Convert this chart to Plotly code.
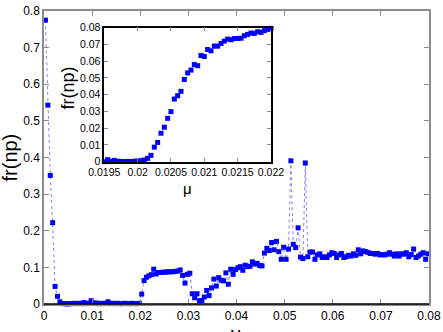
import plotly.graph_objects as go

# ---- main series: mu grid and fr(np) values ----
mu_start = 0.0003
mu_step = 0.0005
fr_main = [
    0.775, 0.543, 0.351, 0.222, 0.048, 0.021, 0.006, 0.001, 0.001, 0.000,
    0.001, 0.001, 0.002, 0.001, 0.002, 0.001, 0.004, 0.001, 0.002, 0.009,
    0.002, 0.003, 0.001, 0.002, 0.001, 0.002, 0.006, 0.001, 0.002, 0.001,
    0.002, 0.001, 0.001, 0.002, 0.001, 0.001, 0.002, 0.001, 0.001, 0.002,
    0.027, 0.064, 0.073, 0.077, 0.080, 0.095, 0.082, 0.086, 0.086, 0.087,
    0.087, 0.088, 0.088, 0.088, 0.089, 0.090, 0.093, 0.078, 0.057, 0.081,
    0.084, 0.028, 0.017, 0.028, 0.009, 0.009, 0.019, 0.037, 0.023, 0.044,
    0.068, 0.049, 0.072, 0.065, 0.063, 0.085, 0.054, 0.095, 0.081, 0.094,
    0.099, 0.102, 0.092, 0.106, 0.102, 0.103, 0.115, 0.109, 0.111, 0.105,
    0.104, 0.139, 0.152, 0.146, 0.168, 0.148, 0.171, 0.143, 0.122, 0.155,
    0.122, 0.150, 0.391, 0.163, 0.154, 0.208, 0.128, 0.124, 0.385, 0.129,
    0.142, 0.142, 0.122, 0.134, 0.137, 0.127, 0.129, 0.127, 0.134, 0.140,
    0.138, 0.127, 0.134, 0.138, 0.127, 0.129, 0.133, 0.131, 0.137, 0.133,
    0.148, 0.137, 0.145, 0.143, 0.141, 0.138, 0.138, 0.136, 0.138, 0.134,
    0.135, 0.134, 0.136, 0.140, 0.136, 0.131, 0.137, 0.131, 0.137, 0.136,
    0.140, 0.129, 0.135, 0.150, 0.127, 0.131, 0.136, 0.140, 0.122, 0.137,
]
mu_main = [round(mu_start + mu_step * i, 5) for i in range(len(fr_main))]

# ---- inset series ----
inset_start = 0.0195
inset_step = 0.00005
fr_inset = [
    0.0000, 0.0012, 0.0003, 0.0008, 0.0002, 0.0002, 0.0001, 0.0002, 0.0001, 0.0003,
    0.0004, 0.0006, 0.0010, 0.0020, 0.0038, 0.0087, 0.0115, 0.0170, 0.0206, 0.0259,
    0.0299, 0.0374, 0.0394, 0.0420, 0.0491, 0.0530, 0.0547, 0.0580, 0.0573, 0.0634,
    0.0628, 0.0670, 0.0662, 0.0690, 0.0690, 0.0706, 0.0720, 0.0732, 0.0728, 0.0735,
    0.0736, 0.0737, 0.0752, 0.0760, 0.0768, 0.0766, 0.0776, 0.0772, 0.0782, 0.0790,
    0.0796,
]
mu_inset = [round(inset_start + inset_step * i, 6) for i in range(len(fr_inset))]

# ---- tick labels ----
main_xticks = [0, 0.01, 0.02, 0.03, 0.04, 0.05, 0.06, 0.07, 0.08]
main_xtext = ["0", "0.01", "0.02", "0.03", "0.04", "0.05", "0.06", "0.07", "0.08"]
main_yticks = [0, 0.1, 0.2, 0.3, 0.4, 0.5, 0.6, 0.7, 0.8]
main_ytext = ["0", "0.1", "0.2", "0.3", "0.4", "0.5", "0.6", "0.7", "0.8"]
inset_xticks = [0.0195, 0.02, 0.0205, 0.021, 0.0215, 0.022]
inset_xtext = ["0.0195", "0.02", "0.0205", "0.021", "0.0215", "0.022"]
inset_yticks = [0, 0.01, 0.02, 0.03, 0.04, 0.05, 0.06, 0.07, 0.08]
inset_ytext = ["0", "0.01", "0.02", "0.03", "0.04", "0.05", "0.06", "0.07", "0.08"]

FONT = "Liberation Sans, Arial, sans-serif"
BLUE = "#0000ff"
GRAY = "#8c8c8c"

fig = go.Figure()
fig.add_trace(go.Scatter(
    x=mu_main, y=fr_main, mode="lines+markers",
    line=dict(color="#8080ff", width=1, dash="dot"),
    marker=dict(symbol="square", size=5, color=BLUE),
    xaxis="x", yaxis="y", showlegend=False, cliponaxis=False,
))
fig.add_trace(go.Scatter(
    x=mu_inset, y=fr_inset, mode="markers",
    marker=dict(symbol="square", size=5, color=BLUE),
    xaxis="x2", yaxis="y2", showlegend=False, cliponaxis=False,
))

W, H = 443, 332
L, R, T, B = 44, 14, 11, 28
pw = W - L - R
ph = H - T - B

def px_x(p):
    return (p - L) / pw

def px_y(p):
    return (H - B - p) / ph

axis_common = dict(ticks="inside", ticklen=5, tickwidth=1, tickcolor=GRAY,
                   showgrid=False, zeroline=False, showline=True,
                   linewidth=1.5, mirror="ticks", automargin=False)

fig.update_layout(
    width=W, height=H,
    margin=dict(l=L, r=R, t=T, b=B, pad=0, autoexpand=False),
    paper_bgcolor="white", plot_bgcolor="white",
    font=dict(family=FONT, color="black"),
    xaxis=dict(range=[0, 0.08], tickvals=main_xticks, ticktext=main_xtext,
               tickfont=dict(size=12), linecolor=GRAY, domain=[0, 1],
               anchor="y", **axis_common),
    yaxis=dict(range=[0, 0.8], tickvals=main_yticks, ticktext=main_ytext,
               tickfont=dict(size=12), linecolor=GRAY, domain=[0, 1],
               anchor="x", **axis_common),
    xaxis2=dict(range=[0.0195, 0.022], tickvals=inset_xticks, ticktext=inset_xtext,
                tickfont=dict(size=10.5), linecolor="black",
                domain=[px_x(104.3), px_x(271)], anchor="y2",
                **{**axis_common, "ticklen": 4}),
    yaxis2=dict(range=[0, 0.08], tickvals=inset_yticks, ticktext=inset_ytext,
                tickfont=dict(size=10.5), linecolor="black",
                domain=[px_y(161.7), px_y(27.7)], anchor="x2",
                **{**axis_common, "ticklen": 4}),
    shapes=[
        dict(type="line", xref="paper", yref="paper", x0=0, x1=1, y0=0, y1=0,
             line=dict(color="black", width=1.5)),
        dict(type="rect", xref="paper", yref="paper",
             x0=px_x(104.3), x1=px_x(271), y0=px_y(161.7), y1=px_y(27.7),
             fillcolor="white", line=dict(width=0), layer="below"),
    ],
    annotations=[
        dict(text="fr(np)", xref="paper", yref="paper", x=px_x(9.5), y=px_y(158),
             xanchor="center", yanchor="middle", textangle=-90, showarrow=False,
             font=dict(size=20)),
        dict(text="μ", xref="paper", yref="paper", x=px_x(236), y=px_y(321),
             xanchor="center", yanchor="top", showarrow=False, font=dict(size=20)),
        dict(text="fr(np)", xref="paper", yref="paper", x=px_x(67.5), y=px_y(88),
             xanchor="center", yanchor="middle", textangle=-90, showarrow=False,
             font=dict(size=18)),
        dict(text="μ", xref="paper", yref="paper", x=px_x(187), y=px_y(189),
             xanchor="center", yanchor="middle", showarrow=False, font=dict(size=15)),
    ],
)

fig.write_html(
    "out.html",
    config={"displayModeBar": False},
    post_script="document.body.style.margin='0';document.body.style.padding='0';",
)
